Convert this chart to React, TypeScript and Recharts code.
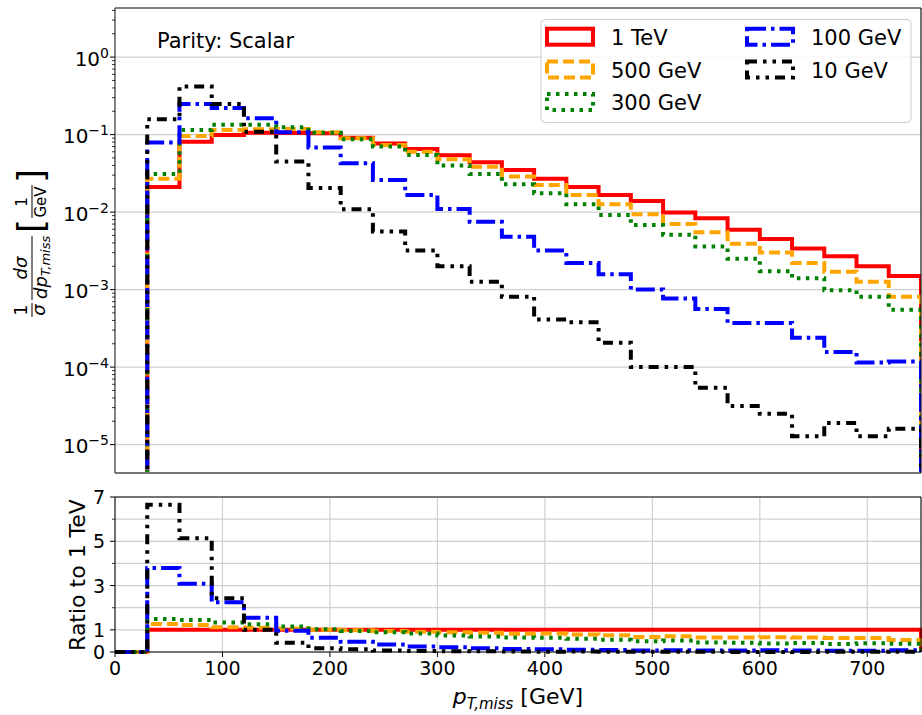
import React from 'react';
import { LineChart, Line, XAxis, YAxis, CartesianGrid } from 'recharts';

// bin low edges (GeV), bins are 30 GeV wide
const binLow = [30, 60, 90, 120, 150, 180, 210, 240, 270, 300, 330, 360, 390, 420, 450, 480, 510, 540, 570, 600, 630, 660, 690, 720];
const ratioLow = [0, 30, 60, 90, 120, 150, 180, 210, 240, 270, 300, 330, 360, 390, 420, 450, 480, 510, 540, 570, 600, 630, 660, 690, 720];
const X_MAX = 750;
const FLOOR = 1e-7;

const xTicks = [0, 100, 200, 300, 400, 500, 600, 700];
const decadeTicks = [1e-5, 1e-4, 1e-3, 1e-2, 1e-1, 1];
const decadeLabels = ['\u22125', '\u22124', '\u22123', '\u22122', '\u22121', '0'];
const ratioTicks = [0, 1, 2, 3, 4, 5, 6, 7];
const ratioLabels = ['0', '1', '', '3', '', '5', '', '7'];

// normalised spectra, 1/sigma dsigma/dpT
const tev1 = [0.021, 0.081, 0.099, 0.106, 0.105, 0.104, 0.091, 0.077, 0.065, 0.054, 0.044, 0.035, 0.027, 0.021, 0.0166, 0.0139, 0.0099, 0.0083, 0.0059, 0.0045, 0.0034, 0.0027, 0.002, 0.0015];
const gev500 = [0.027, 0.096, 0.115, 0.117, 0.118, 0.107, 0.09, 0.0736, 0.06, 0.048, 0.0386, 0.0287, 0.0224, 0.0166, 0.0126, 0.0094, 0.007, 0.0055, 0.0039, 0.003, 0.0022, 0.0017, 0.00126, 0.00081];
const gev300 = [0.031, 0.115, 0.134, 0.134, 0.124, 0.106, 0.087, 0.07, 0.0547, 0.04, 0.031, 0.0229, 0.0175, 0.0126, 0.0092, 0.0068, 0.0051, 0.0036, 0.0025, 0.00173, 0.0014, 0.00098, 0.00081, 0.00055];
const gev100 = [0.079, 0.249, 0.221, 0.163, 0.107, 0.068, 0.0427, 0.026, 0.0166, 0.011, 0.0075, 0.0048, 0.0032, 0.0022, 0.00158, 0.001, 0.00077, 0.00056, 0.00037, 0.00037, 0.00024, 0.000157, 0.000115, 0.000118];
const gev10 = [0.158, 0.417, 0.248, 0.109, 0.045, 0.0205, 0.0109, 0.0056, 0.0032, 0.002, 0.00126, 0.00081, 0.00041, 0.00038, 0.000206, 0.0001, 0.0001, 0.000054, 0.0000315, 0.000025, 0.0000128, 0.000019, 0.0000128, 0.000016];

// ratio to 1 TeV (first bin 0-30 is empty)
const ratio1tev = [0, 1, 1, 1, 1, 1, 1, 1, 1, 1, 1, 1, 1, 1, 1, 1, 1, 1, 1, 1, 1, 1, 1, 1, 1];
const ratio500 = [0, 1.27, 1.22, 1.12, 1.09, 1.06, 1.0, 0.98, 0.95, 0.92, 0.89, 0.87, 0.82, 0.83, 0.79, 0.76, 0.68, 0.71, 0.66, 0.66, 0.67, 0.65, 0.63, 0.63, 0.54];
const ratio300 = [0, 1.49, 1.45, 1.33, 1.25, 1.15, 1.03, 0.95, 0.89, 0.84, 0.75, 0.7, 0.65, 0.64, 0.6, 0.55, 0.49, 0.52, 0.43, 0.42, 0.38, 0.41, 0.36, 0.4, 0.37];
const ratio100 = [0, 3.79, 3.08, 2.25, 1.55, 0.96, 0.64, 0.46, 0.34, 0.25, 0.21, 0.17, 0.14, 0.12, 0.1, 0.095, 0.072, 0.078, 0.067, 0.063, 0.082, 0.071, 0.058, 0.058, 0.079];
const ratio10 = [0, 6.65, 5.14, 2.43, 1.0, 0.42, 0.17, 0.12, 0.07, 0.05, 0.037, 0.029, 0.023, 0.015, 0.018, 0.012, 0.007, 0.01, 0.0065, 0.0053, 0.0056, 0.0038, 0.007, 0.0064, 0.011];

const series = [
  { name: '1 TeV', color: '#ff0000', dash: undefined, spec: tev1, ratio: ratio1tev },
  { name: '500 GeV', color: '#ffa500', dash: '11 5', spec: gev500, ratio: ratio500 },
  { name: '300 GeV', color: '#008000', dash: '3.5 5.5', spec: gev300, ratio: ratio300 },
  { name: '100 GeV', color: '#0000ff', dash: '19 5 3.5 5', spec: gev100, ratio: ratio100 },
  { name: '10 GeV', color: '#000000', dash: '10 6 3.5 6 3.5 6', spec: gev10, ratio: ratio10 },
];

// histtype="step" outline: rise at first edge, drop at last edge
const stepTop = (vals: number[]) => [
  { x: binLow[0], y: FLOOR },
  ...binLow.map((x, i) => ({ x, y: vals[i] })),
  { x: X_MAX, y: vals[vals.length - 1] },
  { x: X_MAX, y: FLOOR },
];
const stepRatio = (vals: number[]) => [
  ...ratioLow.map((x, i) => ({ x, y: vals[i] })),
  { x: X_MAX, y: vals[vals.length - 1] },
  { x: X_MAX, y: 0 },
];

const FONT = '"DejaVu Sans", sans-serif';
const LW = 4;

const minorTicks = [
  2e-6, 3e-6, 4e-6,
  2e-5, 3e-5, 4e-5, 5e-5, 6e-5, 7e-5, 8e-5, 9e-5,
  2e-4, 3e-4, 4e-4, 5e-4, 6e-4, 7e-4, 8e-4, 9e-4,
  2e-3, 3e-3, 4e-3, 5e-3, 6e-3, 7e-3, 8e-3, 9e-3,
  2e-2, 3e-2, 4e-2, 5e-2, 6e-2, 7e-2, 8e-2, 9e-2,
  0.2, 0.3, 0.4, 0.5, 0.6, 0.7, 0.8, 0.9,
  2, 3, 4,
].filter((v) => v >= 4.3e-6 && v <= 4.3);
const logTicks = [...decadeTicks, ...minorTicks].sort((a, b) => a - b);

const LogTick = (props: any) => {
  const { x, y, payload } = props;
  const idx = decadeTicks.indexOf(payload.value);
  if (idx < 0) {
    return <line x1={x - 3} x2={x} y1={y} y2={y} stroke="#000" strokeWidth={0.8} />;
  }
  return (
    <g>
      <line x1={x - 5} x2={x} y1={y} y2={y} stroke="#000" strokeWidth={1} />
      <text x={x - 6} y={y + 8.5} textAnchor="end" fontSize={20} fill="#000" fontFamily={FONT}>
        10<tspan dy={-8} fontSize={14}>{decadeLabels[idx]}</tspan>
      </text>
    </g>
  );
};

const RatioTick = (props: any) => {
  const { x, y, payload } = props;
  const lab = ratioLabels[ratioTicks.indexOf(payload.value)];
  return (
    <g>
      <line x1={x - (lab ? 5 : 3)} x2={x} y1={y} y2={y} stroke="#000" strokeWidth={lab ? 1 : 0.8} />
      {lab ? (
        <text x={x - 10} y={y + 7} textAnchor="end" fontSize={19} fill="#000" fontFamily={FONT}>
          {lab}
        </text>
      ) : null}
    </g>
  );
};

const legendRows = [
  { s: 0, hx: 547, cy: 36.7 },
  { s: 1, hx: 547, cy: 69.5 },
  { s: 2, hx: 547, cy: 102 },
  { s: 3, hx: 747, cy: 36.7 },
  { s: 4, hx: 747, cy: 69.5 },
];

export default function App() {
  return (
    <div style={{ position: 'absolute', left: 0, top: 0, width: 922, height: 715, background: '#fff', fontFamily: FONT, overflow: 'hidden' }}>
      {/* spectrum panel */}
      <div style={{ position: 'absolute', left: 0, top: 0 }}>
        <LineChart width={922} height={480} margin={{ top: 7, right: 0, bottom: 0, left: 0 }}>
          <CartesianGrid stroke="#d0d0d0" strokeWidth={1.2} horizontalValues={decadeTicks} />
          <XAxis
            dataKey="x"
            type="number"
            domain={[0, X_MAX]}
            ticks={xTicks}
            height={7}
            tick={false}
            tickSize={5}
            tickLine={{ stroke: '#000' }}
            axisLine={{ stroke: '#777', strokeWidth: 2 }}
            allowDataOverflow
          />
          <XAxis xAxisId="top" orientation="top" type="number" domain={[0, X_MAX]} height={1} tick={false} tickLine={false} axisLine={{ stroke: '#000' }} />
          <YAxis
            type="number"
            scale="log"
            domain={[4.3e-6, 4.3]}
            allowDataOverflow
            ticks={logTicks}
            interval={0}
            width={115}
            tickSize={0}
            tickMargin={0}
            tickLine={false}
            tick={<LogTick />}
            axisLine={{ stroke: '#444', strokeWidth: 1.2 }}
          />
          <YAxis yAxisId="right" orientation="right" width={1} domain={[0, 1]} tick={false} tickLine={false} axisLine={{ stroke: '#000' }} />
          {series.map((s) => (
            <Line
              key={s.name}
              data={stepTop(s.spec)}
              dataKey="y"
              type="stepAfter"
              stroke={s.color}
              strokeWidth={LW}
              strokeDasharray={s.dash}
              strokeLinecap="butt"
              dot={false}
              activeDot={false}
              isAnimationActive={false}
            />
          ))}
        </LineChart>
      </div>

      {/* ratio panel */}
      <div style={{ position: 'absolute', left: 0, top: 480 }}>
        <LineChart width={922} height={235} margin={{ top: 16, right: 0, bottom: 0, left: 0 }}>
          <CartesianGrid stroke="#d0d0d0" strokeWidth={1.2} />
          <XAxis
            dataKey="x"
            type="number"
            domain={[0, X_MAX]}
            ticks={xTicks}
            height={63}
            tickSize={5}
            tickMargin={5}
            tick={{ fontSize: 19, fill: '#000', fontFamily: FONT }}
            tickLine={{ stroke: '#000' }}
            axisLine={{ stroke: '#000' }}
          />
          <XAxis xAxisId="top" orientation="top" type="number" domain={[0, X_MAX]} height={1} tick={false} tickLine={false} axisLine={{ stroke: '#000' }} />
          <YAxis
            type="number"
            domain={[0, 7]}
            ticks={ratioTicks}
            interval={0}
            width={115}
            tickSize={0}
            tickMargin={0}
            tickLine={false}
            tick={<RatioTick />}
            axisLine={{ stroke: '#000' }}
          />
          <YAxis yAxisId="right" orientation="right" width={1} domain={[0, 1]} tick={false} tickLine={false} axisLine={{ stroke: '#000' }} />
          {series.map((s) => (
            <Line
              key={s.name}
              data={stepRatio(s.ratio)}
              dataKey="y"
              type="stepAfter"
              stroke={s.color}
              strokeWidth={LW}
              strokeDasharray={s.dash}
              strokeLinecap="butt"
              dot={false}
              activeDot={false}
              isAnimationActive={false}
            />
          ))}
        </LineChart>
      </div>

      {/* labels, annotation and legend */}
      <svg width={922} height={715} style={{ position: 'absolute', left: 0, top: 0, pointerEvents: 'none' }} fontFamily={FONT}>
        <text x={157} y={48} fontSize={21} fill="#000">Parity: Scalar</text>

        <g transform="translate(32,240) rotate(-90)" fill="#000">
          <text x={-70} y={-5} fontSize={17} textAnchor="middle">1</text>
          <line x1={-77} x2={-63} y1={0} y2={0} stroke="#000" strokeWidth={1} />
          <text x={-70} y={13} fontSize={18} textAnchor="middle" fontStyle="italic">σ</text>

          <text x={-28} y={-5} fontSize={18} textAnchor="middle" fontStyle="italic">dσ</text>
          <line x1={-60} x2={4} y1={0} y2={0} stroke="#000" strokeWidth={1} />
          <text x={-59} y={15} fontSize={18} fontStyle="italic">
            dp<tspan fontSize={13} dy={3}>T,miss</tspan>
          </text>

          <text x={7} y={11} fontSize={36}>[</text>
          <text x={38} y={-5} fontSize={15} textAnchor="middle">1</text>
          <line x1={22} x2={55} y1={0} y2={0} stroke="#000" strokeWidth={1} />
          <text x={38} y={14} fontSize={15} textAnchor="middle">GeV</text>
          <text x={57} y={11} fontSize={36}>]</text>
        </g>

        <text transform="translate(85,575) rotate(-90)" textAnchor="middle" fontSize={22} fill="#000">Ratio to 1 TeV</text>

        <text x={518} y={704} textAnchor="middle" fontSize={22} fill="#000">
          <tspan fontStyle="italic">p</tspan>
          <tspan fontStyle="italic" fontSize={15} dy={5}>T,miss</tspan>
          <tspan dy={-5}> [GeV]</tspan>
        </text>

        <rect x={541} y={19.5} width={370} height={103} rx={4} fill="#fff" fillOpacity={0.85} stroke="#cccccc" strokeWidth={1} />
        {legendRows.map((r) => {
          const s = series[r.s];
          return (
            <g key={s.name}>
              <rect x={r.hx} y={r.cy - 8} width={46} height={16} fill="none" stroke={s.color} strokeWidth={LW} strokeDasharray={s.dash} />
              <text x={r.hx + 64} y={r.cy + 8} fontSize={21} fill="#000">{s.name}</text>
            </g>
          );
        })}
      </svg>
    </div>
  );
}
